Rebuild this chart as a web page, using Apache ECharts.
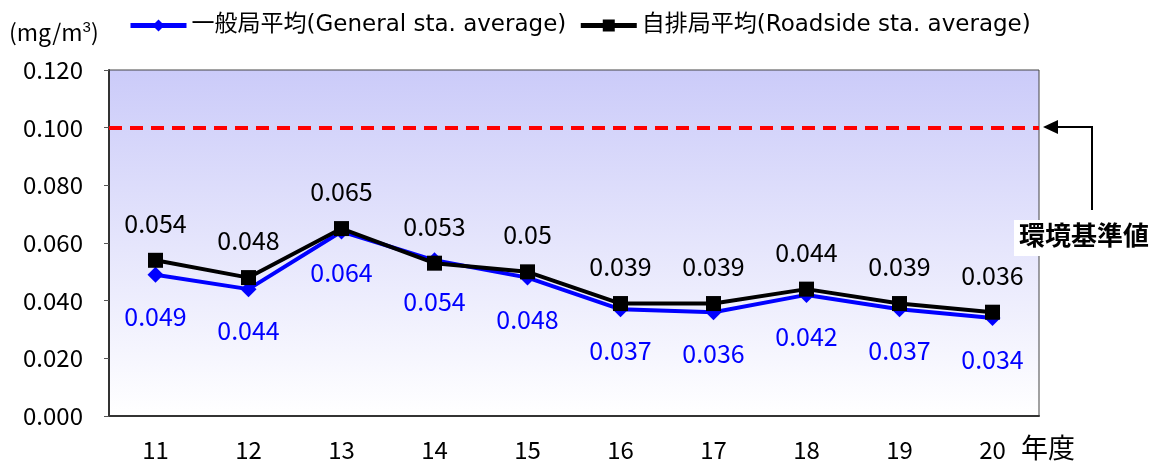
<!DOCTYPE html>
<html>
<head>
<meta charset="utf-8">
<script src="https://cdn.jsdelivr.net/npm/echarts@6/dist/echarts.min.js"></script>
<style>
  html, body { margin: 0; padding: 0; background: #fff; }
  #chart { width: 1153px; height: 469px; }
</style>
</head>
<body>
<div id="chart"></div>
<script>
// 年度
var years = ['11', '12', '13', '14', '15', '16', '17', '18', '19', '20'];
// 一般局平均
var generalAvg = [0.049, 0.044, 0.064, 0.054, 0.048, 0.037, 0.036, 0.042, 0.037, 0.034];
// 自排局平均
var roadsideAvg = [0.054, 0.048, 0.065, 0.053, 0.05, 0.039, 0.039, 0.044, 0.039, 0.036];
var standardValue = 0.100;

var font = 'Noto Sans CJK JP';
var legendFont = '"DejaVu Sans", "Noto Sans CJK JP"';
var myChart = echarts.init(document.getElementById('chart'));

myChart.setOption({
    backgroundColor: '#fff',
    textStyle: { fontFamily: font },
    animation: false,
    grid: {
        left: 109, right: 114, top: 70, bottom: 53,
        show: true,
        borderColor: '#444',
        borderWidth: 1,
        backgroundColor: new echarts.graphic.LinearGradient(0, 0, 0, 1, [
            { offset: 0, color: '#cbcbf9' },
            { offset: 1, color: '#ffffff' }
        ])
    },
    legend: {
        left: 123, top: 9,
        itemWidth: 56, itemHeight: 15, itemGap: 12,
        lineStyle: { width: 5 },
        textStyle: { fontSize: 23, color: '#000', fontFamily: legendFont },
        data: ['一般局平均(General sta. average)', '自排局平均(Roadside sta. average)']
    },
    xAxis: {
        type: 'category',
        data: years,
        boundaryGap: true,
        axisLine: { lineStyle: { color: '#333', width: 2 } },
        axisTick: { inside: true, length: 6, lineStyle: { color: '#555' } },
        axisLabel: { fontSize: 24, color: '#000', margin: 22, fontFamily: font }
    },
    yAxis: {
        type: 'value',
        min: 0, max: 0.12, interval: 0.02,
        axisLine: { show: true, lineStyle: { color: '#333', width: 2 } },
        axisTick: { show: true, length: 5, lineStyle: { color: '#555' } },
        splitLine: { show: false },
        axisLabel: {
            fontSize: 24, color: '#000', margin: 26, fontFamily: font,
            formatter: function (v) { return v.toFixed(3); }
        }
    },
    series: [{
        name: '一般局平均(General sta. average)',
        type: 'line',
        data: generalAvg,
        color: '#0000ff',
        symbol: 'diamond',
        symbolSize: 16,
        lineStyle: { width: 4, color: '#0000ff' },
        itemStyle: { color: '#0000ff' },
        label: {
            show: true, position: 'bottom', distance: 21,
            fontSize: 25, color: '#0000ff', fontFamily: font,
            formatter: function (p) { return String(p.value); }
        },
        z: 3
    }, {
        name: '自排局平均(Roadside sta. average)',
        type: 'line',
        data: roadsideAvg,
        color: '#000',
        symbol: 'rect',
        symbolSize: 15,
        lineStyle: { width: 4, color: '#000' },
        itemStyle: { color: '#000' },
        label: {
            show: true, position: 'top', distance: 17,
            fontSize: 25, color: '#000', fontFamily: font,
            formatter: function (p) { return String(p.value); }
        },
        markLine: {
            silent: true,
            symbol: 'none',
            label: { show: false },
            lineStyle: { color: '#ff0000', width: 4, type: [13, 8] },
            data: [{ yAxis: standardValue }]
        },
        z: 4
    }],
    graphic: [{
        type: 'text', left: 9, top: 20,
        style: {
            text: '(mg/m{sup|3})',
            font: '23px ' + font,
            fill: '#000',
            rich: { sup: { fontSize: 15, verticalAlign: 'top', padding: [0, 0, 10, 0], fill: '#000' } }
        }
    }, {
        type: 'polyline',
        shape: { points: [[1056, 127], [1092, 127], [1092, 210]] },
        style: { stroke: '#000', lineWidth: 2, fill: null }
    }, {
        type: 'polygon',
        shape: { points: [[1043, 127], [1058, 120], [1058, 134]] },
        style: { fill: '#000' }
    }, {
        type: 'rect',
        shape: { x: 1014, y: 220, width: 139, height: 36 },
        style: { fill: '#fff' }
    }, {
        type: 'text', left: 1019, top: 222,
        style: { text: '環境基準値', font: 'bold 26px ' + font, fill: '#000' }
    }, {
        type: 'text', left: 1021, top: 434,
        style: { text: '年度', font: '27px ' + font, fill: '#000' }
    }]
});
</script>
</body>
</html>
